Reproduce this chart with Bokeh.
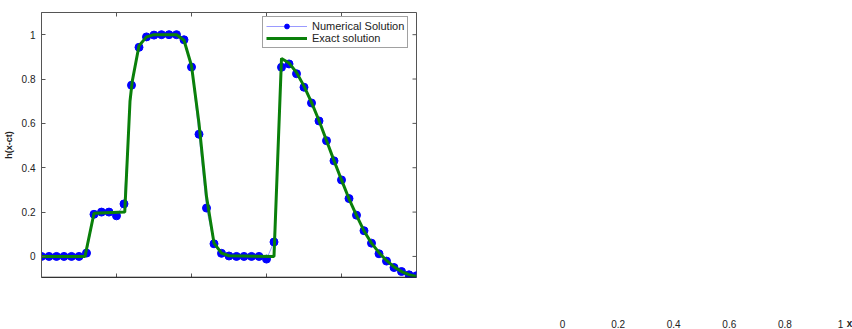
from bokeh.plotting import figure
from bokeh.models import Range1d, FixedTicker
from bokeh.layouts import row
from bokeh.embed import file_html
from bokeh.resources import INLINE

# ---- data ----
num_x = [0.00, 0.02, 0.04, 0.06, 0.08, 0.10, 0.12, 0.14, 0.16, 0.18,
         0.20, 0.22, 0.24, 0.26, 0.28, 0.30, 0.32, 0.34, 0.36, 0.38,
         0.40, 0.42, 0.44, 0.46, 0.48, 0.50, 0.52, 0.54, 0.56, 0.58,
         0.60, 0.62, 0.64, 0.66, 0.68, 0.70, 0.72, 0.74, 0.76, 0.78,
         0.80, 0.82, 0.84, 0.86, 0.88, 0.90, 0.92, 0.94, 0.96, 0.98, 1.00]
num_y = [0, 0, 0, 0, 0, 0, 0.015, 0.19, 0.2, 0.2,
         0.183, 0.237, 0.772, 0.943, 0.99, 0.998, 1.0, 1.0, 1.0, 0.977,
         0.854, 0.551, 0.218, 0.057, 0.014, 0.002, 0, 0, 0, 0,
         -0.012, 0.065, 0.853, 0.868, 0.824, 0.763, 0.692, 0.611, 0.522, 0.431,
         0.345, 0.261, 0.186, 0.116, 0.06, 0.012, -0.021, -0.05, -0.068, -0.083, -0.087]

ex_x = [0, 0.116, 0.14, 0.222, 0.236, 0.242, 0.26, 0.28, 0.30, 0.36, 0.38, 0.40,
        0.42, 0.44, 0.46, 0.48, 0.50, 0.62, 0.64, 0.66, 0.68, 0.70, 0.72, 0.74,
        0.76, 0.78, 0.80, 0.82, 0.84, 0.86, 0.88, 0.90, 0.92, 0.94, 0.96, 0.98, 1.0]
ex_y = [0, 0, 0.195, 0.2, 0.70, 0.79, 0.95, 0.99, 1.0, 1.0, 0.975, 0.86,
        0.6, 0.27, 0.06, 0.015, 0.003, 0, 0.893, 0.872, 0.83, 0.768, 0.695, 0.613,
        0.523, 0.432, 0.345, 0.26, 0.185, 0.115, 0.06, 0.017, -0.018, -0.047, -0.068, -0.082, -0.09]

y_ticks = [0, 0.2, 0.4, 0.6, 0.8, 1]
y_tick_labels = ["0", "0.2", "0.4", "0.6", "0.8", "1"]
x_ticks = [0, 0.2, 0.4, 0.6, 0.8, 1]
x_tick_labels = ["0", "0.2", "0.4", "0.6", "0.8", "1"]
x_label = "x"
y_label = "h(x-ct)"
series_names = ["Numerical Solution", "Exact solution"]

FONT = "Liberation Sans"
TXT = "#222222"
AX = "#555555"
X0, X1 = 0, 1
Y0, Y1 = -0.095, 1.1
W_MAIN, H = 540, 329
F_LEFT, F_TOP, F_RIGHT, F_BOTTOM = 40, 12, 416, 277
FW, FH = F_RIGHT - F_LEFT, F_BOTTOM - F_TOP
TICK = 4  # px

p = figure(width=W_MAIN, height=H, output_backend="svg", toolbar_location=None,
           x_range=Range1d(X0, X1), y_range=Range1d(Y0, Y1),
           min_border_left=F_LEFT, min_border_right=W_MAIN - F_RIGHT,
           min_border_top=F_TOP, min_border_bottom=H - F_BOTTOM,
           background_fill_color="white", border_fill_color="white")
p.frame_align = False
p.grid.visible = False
p.xaxis.visible = False
p.outline_line_color = AX

# numerical solution
p.line(num_x, num_y, line_color="#9a9aff", line_width=1, legend_label=series_names[0])
p.scatter(num_x, num_y, marker="circle", size=8, fill_color="#0000ff",
          line_color="#0000ff", legend_label=series_names[0])
# exact solution
p.line(ex_x, ex_y, line_color="#0a800a", line_width=3, legend_label=series_names[1])

# inward tick marks on bottom, top and right edges (Matlab box style)
dy = TICK * (Y1 - Y0) / FH
dx = TICK * (X1 - X0) / FW
p.segment(x0=x_ticks, y0=[Y0] * len(x_ticks), x1=x_ticks, y1=[Y0 + dy] * len(x_ticks),
          line_color=AX, line_width=1)
p.segment(x0=x_ticks, y0=[Y1] * len(x_ticks), x1=x_ticks, y1=[Y1 - dy] * len(x_ticks),
          line_color=AX, line_width=1)
p.segment(x0=[X1] * len(y_ticks), y0=y_ticks, x1=[X1 - dx] * len(y_ticks), y1=y_ticks,
          line_color=AX, line_width=1)
p.segment(x0=[X0], y0=[Y0], x1=[X1], y1=[Y0], line_color="#111111", line_width=1.5)

yax = p.yaxis[0]
yax.ticker = FixedTicker(ticks=y_ticks)
yax.major_tick_in = TICK
yax.major_tick_out = 0
yax.minor_tick_line_color = None
yax.axis_line_color = AX
yax.major_tick_line_color = AX
yax.major_label_overrides = {t: l for t, l in zip(y_ticks, y_tick_labels)}
yax.major_label_text_font = FONT
yax.major_label_text_font_size = "10px"
yax.major_label_text_color = TXT
yax.major_label_standoff = 6
yax.axis_label = y_label
yax.axis_label_text_font = FONT
yax.axis_label_text_font_size = "9px"
yax.axis_label_text_font_style = "bold"
yax.axis_label_text_color = TXT
yax.axis_label_standoff = 5

# legend
lg = p.legend[0]
lg.location = (261 - F_LEFT, F_BOTTOM - 48)
lg.label_text_font = FONT
lg.label_text_font_size = "11px"
lg.label_text_color = TXT
lg.label_height = 12
lg.glyph_height = 12
lg.glyph_width = 41
lg.label_standoff = 5
lg.spacing = 0
lg.padding = 3
lg.margin = 0
lg.border_line_color = "#444444"
lg.border_line_width = 1
lg.background_fill_alpha = 1

# ---- detached x-axis tick labels (bottom right) ----
W_SIDE = 852 - W_MAIN
LAB0_PX, LAB1_PX = 562, 840     # page x of labels "0" and "1"
per = (LAB1_PX - LAB0_PX) / (X1 - X0)
s_x0 = X0 - (LAB0_PX - W_MAIN) / per
s_x1 = X0 + (852 - LAB0_PX) / per
q = figure(width=W_SIDE, height=H, output_backend="svg", toolbar_location=None,
           x_range=Range1d(s_x0, s_x1), y_range=Range1d(0, H),
           min_border=0, background_fill_color="white", border_fill_color="white")
q.frame_align = False
q.axis.visible = False
q.grid.visible = False
q.outline_line_color = None
lab_y = H - 323
q.text(x=x_ticks, y=[lab_y] * len(x_ticks), text=x_tick_labels,
       text_font={"value": FONT}, text_font_size={"value": "10px"}, text_color=TXT,
       text_align="center", text_baseline="middle")
q.text(x=[X1 + 9 / per], y=[lab_y], text=[x_label],
       text_font={"value": FONT}, text_font_size={"value": "10px"},
       text_font_style="bold", text_color=TXT,
       text_align="center", text_baseline="middle")

layout = row(p, q, spacing=0)
open("out.html", "w").write(file_html(layout, INLINE))
